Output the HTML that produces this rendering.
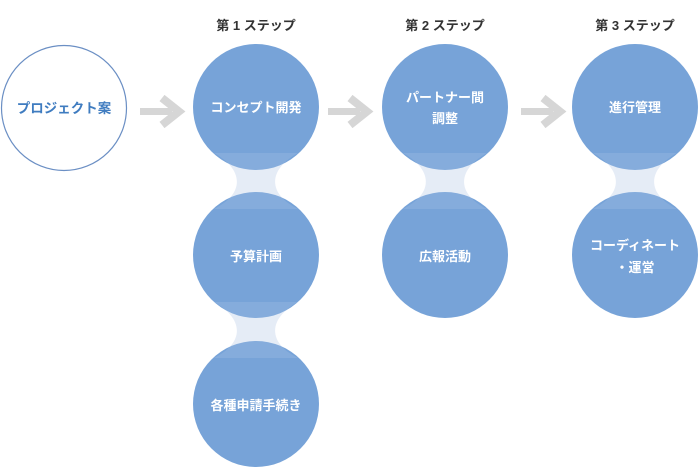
<!DOCTYPE html>
<html><head><meta charset="utf-8"><style>
html,body{margin:0;padding:0;background:#fff;width:700px;height:468px;overflow:hidden}
svg text{font-family:"Liberation Sans","Noto Sans CJK JP",sans-serif;font-weight:bold}
</style></head><body>
<svg width="700" height="468" viewBox="0 0 700 468" xmlns="http://www.w3.org/2000/svg">
<defs>
<path id="cn" d="M-42 0 L42 0 C13 16 10 40 42 56 L-42 56 C-10 40 -13 16 -42 0 Z"/>
<g id="ar">
<rect x="0" y="108" width="32" height="7" fill="#d6d6d6"/>
<path d="M22 98 L39 111.5 L22 125" fill="none" stroke="#d6d6d6" stroke-width="8"/>
</g>
</defs>
<g fill="#333" font-size="13" text-anchor="middle">
<text x="256" y="30">第 1 ステップ</text>
<text x="445" y="30">第 2 ステップ</text>
<text x="635" y="30">第 3 ステップ</text>
</g>
<circle cx="64" cy="108" r="62.5" fill="#fff" stroke="#6b8fc4" stroke-width="1.2"/>
<text x="64" y="113" fill="#3f7cc0" font-size="13.5" text-anchor="middle">プロジェクト案</text>
<use href="#ar" x="140"/>
<use href="#ar" x="328"/>
<use href="#ar" x="521"/>
<g fill="#e3eaf6">
<use href="#cn" x="256" y="153"/><use href="#cn" x="256" y="302"/>
<use href="#cn" x="445" y="153"/><use href="#cn" x="635" y="153"/>
</g>
<g fill="#77a3d8">
<circle cx="256" cy="107" r="63"/><circle cx="256" cy="255" r="63"/><circle cx="256" cy="404" r="63"/>
<circle cx="445" cy="107" r="63"/><circle cx="445" cy="255" r="63"/>
<circle cx="635" cy="107" r="63"/><circle cx="635" cy="255" r="63"/>
</g>
<g fill="#fff" opacity="0.1">
<use href="#cn" x="256" y="153"/><use href="#cn" x="256" y="302"/>
<use href="#cn" x="445" y="153"/><use href="#cn" x="635" y="153"/>
</g>
<g fill="#fff" font-size="13" text-anchor="middle">
<text x="256" y="112">コンセプト開発</text>
<text x="256" y="261">予算計画</text>
<text x="256" y="410">各種申請手続き</text>
<text x="445" y="102">パートナー間</text>
<text x="445" y="123">調整</text>
<text x="445" y="261">広報活動</text>
<text x="635" y="112">進行管理</text>
<text x="635" y="250">コーディネート</text>
<text x="635" y="272">・運営</text>
</g>
</svg>
</body></html>
